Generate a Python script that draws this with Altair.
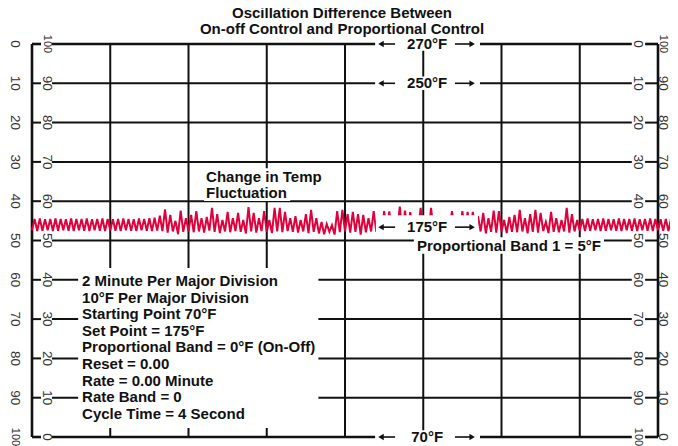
import altair as alt
import pandas as pd

FONT = "Liberation Sans"
INK = "#111111"
LABEL_INK = "#333333"
RED = "#E0003C"

# ---------------- chart values ----------------
title_lines = ["Oscillation Difference Between", "On-off Control and Proportional Control"]

row_levels = [100, 90, 80, 70, 60, 50, 40, 30, 20, 10, 0]
left_outer_labels = ["0", "10", "20", "30", "40", "50", "60", "70", "80", "90", "100"]
left_inner_labels = ["100", "90", "80", "70", "60", "50", "40", "30", "20", "10", "0"]
right_inner_labels = ["0", "10", "20", "30", "40", "50", "60", "70", "80", "90", "100"]
right_outer_labels = ["100", "90", "80", "70", "60", "50", "40", "30", "20", "10", "0"]

frame_minutes = [0, 16]
division_minutes = [2, 4, 6, 8, 10, 12, 14]

sample_seconds = 4
trace_on_off = [
    52.6, 55.5, 52.4, 55.6, 52.5, 55.4, 52.6, 55.5, 52.4, 55.6,
    52.5, 55.5, 52.6, 55.4, 52.5, 55.6, 52.4, 55.5, 52.6, 55.5,
    52.5, 55.6, 52.4, 55.4, 52.6, 55.5, 52.5, 55.6, 52.4, 55.5,
    52.6, 55.4, 52.5, 55.5, 52.4, 55.6, 52.6, 55.5, 52.5, 55.4,
    52.4, 55.6, 52.6, 55.5, 52.5, 55.7, 52.4, 55.8, 52.5, 56.3,
]
trace_transition = [
    52.4, 57.9, 52.0, 56.5, 52.3, 55.0, 51.6, 57.6, 52.2, 55.7,
    52.4, 56.5, 52.1, 57.5, 52.3, 55.7, 52.0, 56.0, 52.5, 58.3,
    52.2, 56.7, 51.9, 55.2, 52.3, 57.3, 52.1, 55.7, 52.4, 57.0,
    52.2, 55.2, 51.8, 58.5, 52.3, 57.0, 52.0, 55.7, 52.4, 57.5,
    52.2, 55.2, 51.9, 58.3, 52.3, 58.3, 52.1, 57.3, 52.4, 55.7,
    52.2, 56.2, 52.0, 55.2, 52.3, 56.7, 51.9, 57.8, 52.2, 55.7,
    51.8, 54.7, 51.6, 54.2, 52.2, 53.9, 51.5, 57.5, 52.1, 57.8,
    52.3, 56.7, 52.0, 57.3, 52.2, 56.7, 51.5, 56.5, 52.1, 55.7,
    52.3, 57.5,
]
trace_masked = [
    52.2, 56.0, 52.0, 57.5, 52.3, 57.4, 51.9, 55.8, 52.2, 58.6,
    52.1, 57.6, 52.3, 57.2, 52.0, 55.6, 52.2, 58.3, 52.4, 56.0,
    52.1, 58.3, 52.3, 55.7, 51.9, 56.1, 52.2, 55.5, 52.0, 57.5,
    52.3, 56.0, 52.1, 57.5, 52.2, 57.3, 52.0, 57.3, 52.3, 56.2,
]
trace_settling = [
    52.3, 57.0, 51.8, 55.7, 52.2, 57.6, 52.0, 57.5, 52.3, 55.2,
    51.9, 56.0, 52.2, 56.5, 52.1, 57.8, 52.3, 55.7, 51.8, 56.7,
    52.2, 57.8, 52.0, 57.0, 52.4, 54.7, 51.9, 57.3, 52.2, 55.7,
    52.1, 55.2, 52.3, 58.3, 52.0, 56.7, 52.3, 55.2,
]
trace_proportional = [
    52.5, 55.5, 52.4, 55.6, 52.5, 55.4, 52.6, 55.5, 52.4, 55.6,
    52.5, 55.5, 52.6, 55.4, 52.5, 55.6, 52.4, 55.5, 52.6, 55.5,
    52.5, 55.6, 52.4, 55.4, 52.6, 55.5, 52.5, 55.6, 52.4, 55.5,
    52.6, 55.4, 52.5, 55.5, 52.4, 55.6,
]

arrow_labels = ["270°F", "250°F", "175°F", "70°F"]
arrow_levels = [100, 90, 53.4, 0]

fluct_lines = ["Change in Temp", "Fluctuation"]
band_note = "Proportional Band 1 = 5°F"
settings_lines = [
    "2 Minute Per Major Division",
    "10°F Per Major Division",
    "Starting Point 70°F",
    "Set Point = 175°F",
    "Proportional Band = 0°F (On-Off)",
    "Reset = 0.00",
    "Rate = 0.00 Minute",
    "Rate Band = 0",
    "Cycle Time = 4 Second",
]

# ---------------- layout (in chart units: minutes / chart percent) ----------------
LABEL_GAPS = [(0.23, 0.51), (15.33, 15.67)]
TICK_COLS = [(-0.435, left_outer_labels), (0.383, left_inner_labels),
             (15.5, right_inner_labels), (16.13, right_outer_labels)]
ARROW_BOX = (8.77, 11.45)
MID_BOX = (8.79, 11.40, 50.6, 56.4)
ARROW_TEXT_X = 10.1
ARROW_LEFT = (8.92, 9.28)
ARROW_RIGHT = (10.81, 11.25)
FLUCT_X = 4.45
FLUCT_Y = [66.2, 62.1]
FLUCT_END = [7.51, 6.6]
BAND_POS = (9.84, 48.6)
BAND_BOX = (9.76, 14.62, 46.6, 50.8)
SET_X = 1.28
SET_Y0, SET_DY = 39.7, 4.23
SET_BOX = (1.18, 7.32, 2.3, 43.0)
TEXT_SIZE = 15

XS = alt.Scale(domain=[0, 16], nice=False, zero=False)
YS = alt.Scale(domain=[0, 100], nice=False, zero=False)


def X(f):
    return alt.X(f, type="quantitative", scale=XS, axis=None)


def Y(f):
    return alt.Y(f, type="quantitative", scale=YS, axis=None)


# horizontal rules, broken where the inner tick labels sit
hseg = []
for lv in row_levels:
    cuts = [frame_minutes[0]] + [c for g in LABEL_GAPS for c in g] + [frame_minutes[1]]
    for a, b in zip(cuts[0::2], cuts[1::2]):
        hseg.append({"x0": a, "x1": b, "level": lv, "frame": lv in (0, 100)})
hseg_df = pd.DataFrame(hseg)

vrule_df = pd.DataFrame(
    [{"minute": m, "frame": True} for m in frame_minutes]
    + [{"minute": m, "frame": False} for m in division_minutes]
)
vrule_df["y0"] = 0
vrule_df["y1"] = 100

trace_values = trace_on_off + trace_transition + trace_masked + trace_settling + trace_proportional
trace_df = pd.DataFrame({
    "minute": [i * sample_seconds / 60 for i in range(len(trace_values))],
    "value": trace_values,
})

boxes = []
for lv in arrow_levels:
    if lv == 53.4:
        boxes.append({"a": MID_BOX[0], "b": MID_BOX[1], "lo": MID_BOX[2], "hi": MID_BOX[3]})
    else:
        boxes.append({"a": ARROW_BOX[0], "b": ARROW_BOX[1], "lo": lv - 1.7, "hi": lv + 1.7})
for y, e in zip(FLUCT_Y, FLUCT_END):
    boxes.append({"a": FLUCT_X - 0.05, "b": e, "lo": y - 2.05, "hi": y + 2.2})
boxes.append({"a": BAND_BOX[0], "b": BAND_BOX[1], "lo": BAND_BOX[2], "hi": BAND_BOX[3]})
boxes.append({"a": SET_BOX[0], "b": SET_BOX[1], "lo": SET_BOX[2], "hi": SET_BOX[3]})
box_df = pd.DataFrame(boxes)

shaft_df = pd.DataFrame(
    [{"a": ARROW_LEFT[0], "b": ARROW_LEFT[1], "level": lv} for lv in arrow_levels]
    + [{"a": ARROW_RIGHT[0], "b": ARROW_RIGHT[1], "level": lv} for lv in arrow_levels]
)
head_df = pd.DataFrame(
    [{"minute": ARROW_LEFT[0], "level": lv, "shape": "triangle-left"} for lv in arrow_levels]
    + [{"minute": ARROW_RIGHT[1], "level": lv, "shape": "triangle-right"} for lv in arrow_levels]
)
arrow_text_df = pd.DataFrame({"minute": ARROW_TEXT_X, "level": arrow_levels, "label": arrow_labels})

notes = [{"minute": FLUCT_X, "level": y, "label": t} for y, t in zip(FLUCT_Y, fluct_lines)]
notes.append({"minute": BAND_POS[0], "level": BAND_POS[1], "label": band_note})
for i, t in enumerate(settings_lines):
    notes.append({"minute": SET_X, "level": SET_Y0 - i * SET_DY, "label": t})
notes_df = pd.DataFrame(notes)

ticks = []
for xpos, labels in TICK_COLS:
    for lv, lab in zip(row_levels, labels):
        ticks.append({"minute": xpos, "level": lv, "label": lab})
tick_df = pd.DataFrame(ticks)

# ---------------- layers ----------------
h_rules = alt.Chart(hseg_df).mark_rule(color=INK).encode(
    x=X("x0"), x2=alt.X2("x1"), y=Y("level"),
    strokeWidth=alt.condition("datum.frame", alt.value(2.6), alt.value(2)),
)
v_rules = alt.Chart(vrule_df).mark_rule(color=INK).encode(
    x=X("minute"), y=Y("y0"), y2=alt.Y2("y1"),
    strokeWidth=alt.condition("datum.frame", alt.value(2.6), alt.value(2)),
)
trace = alt.Chart(trace_df).mark_line(color=RED, strokeWidth=2, strokeJoin="miter").encode(
    x=X("minute"), y=Y("value")
)
white = alt.Chart(box_df).mark_rect(color="white").encode(
    x=X("a"), x2=alt.X2("b"), y=Y("lo"), y2=alt.Y2("hi")
)
shafts = alt.Chart(shaft_df).mark_rule(color=INK, strokeWidth=1.6).encode(
    x=X("a"), x2=alt.X2("b"), y=Y("level")
)
heads = alt.Chart(head_df).mark_point(filled=True, color=INK, opacity=1, size=40).encode(
    x=X("minute"), y=Y("level"), shape=alt.Shape("shape:N", scale=None)
)
arrow_text = alt.Chart(arrow_text_df).mark_text(
    font=FONT, fontSize=TEXT_SIZE, fontWeight="bold", color=INK, align="center", baseline="middle"
).encode(x=X("minute"), y=Y("level"), text="label:N")
note_text = alt.Chart(notes_df).mark_text(
    font=FONT, fontSize=TEXT_SIZE, fontWeight="bold", color=INK, align="left", baseline="middle"
).encode(x=X("minute"), y=Y("level"), text="label:N")
tick_text = alt.Chart(tick_df).mark_text(
    font=FONT, color=LABEL_INK, angle=90, align="center", baseline="middle"
).encode(
    x=X("minute"), y=Y("level"), text="label:N",
    size=alt.condition("datum.label == '100'", alt.value(11), alt.value(13.5)),
)

chart = alt.layer(
    h_rules, v_rules, trace, white, shafts, heads, arrow_text, note_text, tick_text
).properties(
    width=626,
    height=393,
    title=alt.TitleParams(
        text=title_lines, font=FONT, fontSize=TEXT_SIZE, fontWeight="bold", color=INK,
        anchor="middle", offset=-2, lineHeight=16, dx=-3,
    ),
    autosize=alt.AutoSizeParams(type="none"),
    padding={"left": 24, "top": 36, "right": 12, "bottom": 9},
).configure_view(stroke=None)

chart.save("out.html", embed_options={"renderer": "svg", "actions": False})
